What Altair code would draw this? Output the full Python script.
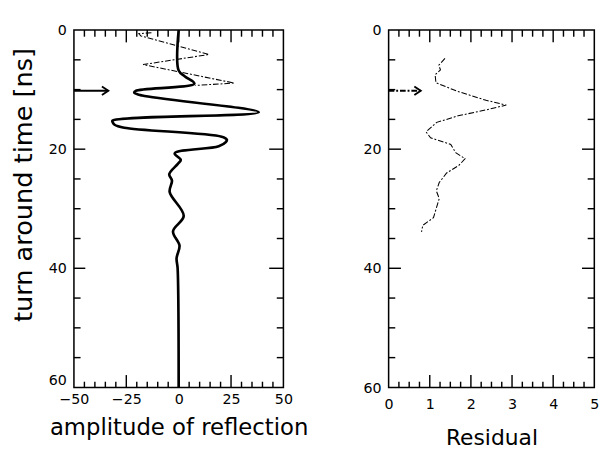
import altair as alt
import pandas as pd

# ---------------- data ----------------
# left panel: thick trace (amplitude of reflection vs turn-around time)
t_thick = [0, 6.8, 7.8, 9.0, 10.2, 10.5, 11.0, 13.8, 15.2, 15.5, 15.9, 16.4,
           17.9, 18.4, 18.8, 19.5, 20.7, 21.8, 22.5, 24.2, 25.3, 27.2, 31.2,
           33.8, 36.2, 38.3, 40.0, 60.0]
amp_thick = [0, 0, 3.0, 7.5, -20.5, -21.2, -17.4, 38.2, -31.6, -31.5, -30.6, -26,
             20.5, 23.0, 22.5, 19.1, -1.9, 1.0, -0.5, -4.5, -3.2, -4.3, 2.4,
             -2.7, 0.4, -1.0, -0.5, 0]
# left panel: thin dashed trace
t_dash = [0.45, 0.6, 1.0, 4.1, 5.8, 8.9, 9.3]
amp_dash = [-13, -19, -18, 14.5, -17, 26.5, 8]
# right panel: residual
t_res = [4.75, 5.9, 6.7, 7.5, 8.85, 10.3, 11.8, 12.6, 13.4, 14.4, 15.5, 17.1,
         18.1, 19.2, 20.6, 21.6, 22.7, 24.0, 25.6, 27.0, 28.3, 29.9, 31.5,
         32.8, 33.9]
res = [1.37, 1.22, 1.26, 1.13, 1.15, 1.68, 2.37, 2.86, 2.37, 1.69, 1.17, 0.91,
       1.02, 1.51, 1.63, 1.86, 1.71, 1.41, 1.23, 1.16, 1.23, 1.16, 1.09,
       0.83, 0.80]
# arrows
arrow_t = [10.2, 10.2]
arrow_amp = [-50, -33.6]
arrow_res = [0, 0.78]

# tick values
amp_labels = [-50, -25, 0, 25, 50]
amp_major = [-25, 0, 25]
amp_minor = [-45, -40, -35, -30, -20, -15, -10, -5, 5, 10, 15, 20, 30, 35, 40, 45]
time_labels = [0, 20, 40, 60]
time_major = [20, 40]
time_minor = [5, 10, 15, 25, 30, 35, 45, 50, 55]
res_labels = [0, 1, 2, 3, 4, 5]
res_major = [1, 2, 3, 4]
res_minor = [0.25, 0.5, 0.75, 1.25, 1.5, 1.75, 2.25, 2.5, 2.75, 3.25, 3.5, 3.75,
             4.25, 4.5, 4.75]

LW, RW, H = 221, 217, 377

thick_df = pd.DataFrame({"t": t_thick, "amp": amp_thick})
dash_df = pd.DataFrame({"t": t_dash, "amp": amp_dash})
arrowL_df = pd.DataFrame({"t": arrow_t, "amp": arrow_amp})
headL_df = arrowL_df.iloc[[1]]
res_df = pd.DataFrame({"t": t_res, "res": res})
arrowR_df = pd.DataFrame({"t": arrow_t, "res": arrow_res})
headR_df = arrowR_df.iloc[[1]]

amp_scale = alt.Scale(domain=[-50, 50], nice=False, zero=False)
res_scale = alt.Scale(domain=[0, 5], nice=False, zero=False)
t_scale = alt.Scale(domain=[0, 60], reverse=True, nice=False, zero=False)

TICK_W = 1.5


def yticks(vals, x0, x1):
    return alt.Chart(pd.DataFrame({"v": vals})).mark_rule(
        color="black", strokeWidth=TICK_W
    ).encode(
        y=alt.Y("v:Q", scale=t_scale, axis=None),
        x=alt.value(x0), x2=alt.value(x1),
    )


def xticks(vals, scale, y0, y1):
    return alt.Chart(pd.DataFrame({"v": vals})).mark_rule(
        color="black", strokeWidth=TICK_W
    ).encode(
        x=alt.X("v:Q", scale=scale, axis=None),
        y=alt.value(y0), y2=alt.value(y1),
    )


HEAD = "M-1.5,-1L0,0L-1.5,1"

# ---------------- left panel ----------------
l_thick = alt.Chart(thick_df).mark_line(
    color="black", strokeWidth=2.8, interpolate="catmull-rom"
).encode(
    x=alt.X("amp:Q", scale=amp_scale,
            axis=alt.Axis(values=amp_labels, tickSize=0, labelPadding=5,
                          title="amplitude of reflection",
                          titleFontSize=24, titlePadding=11)),
    y=alt.Y("t:Q", scale=t_scale,
            axis=alt.Axis(values=time_labels, tickSize=0, labelPadding=8,
                          labelBaseline={"condition": {"test": "datum.value === 60",
                                                       "value": "bottom"},
                                         "value": "middle"},
                          title="turn around time [ns]",
                          titleFontSize=27, titlePadding=12, titleY=163)),
    order="t:Q",
)
l_dash = alt.Chart(dash_df).mark_line(
    color="black", strokeWidth=1.1, strokeDash=[6, 2, 2, 2]
).encode(
    x=alt.X("amp:Q", scale=amp_scale, axis=None),
    y=alt.Y("t:Q", scale=t_scale, axis=None),
    order="t:Q",
)
l_arrow = alt.Chart(arrowL_df).mark_line(color="black", strokeWidth=2).encode(
    x=alt.X("amp:Q", scale=amp_scale, axis=None),
    y=alt.Y("t:Q", scale=t_scale, axis=None),
)
l_head = alt.Chart(headL_df).mark_point(
    shape=HEAD, size=80, filled=False, color="black", strokeWidth=2, opacity=1
).encode(
    x=alt.X("amp:Q", scale=amp_scale, axis=None),
    y=alt.Y("t:Q", scale=t_scale, axis=None),
)
left = alt.layer(
    l_thick, l_dash, l_arrow, l_head,
    yticks(time_minor, 0, 7), yticks(time_major, 0, 12),
    yticks(time_minor, LW, LW - 7), yticks(time_major, LW, LW - 15),
    xticks(amp_minor, amp_scale, H, H - 6), xticks(amp_major, amp_scale, H, H - 13),
    xticks(amp_minor, amp_scale, 0, 7), xticks(amp_major, amp_scale, 0, 13),
).resolve_axis(x="independent", y="independent").properties(width=LW, height=H)

# ---------------- right panel ----------------
r_line = alt.Chart(res_df).mark_line(
    color="black", strokeWidth=1.1, strokeDash=[6, 2, 2, 2]
).encode(
    x=alt.X("res:Q", scale=res_scale,
            axis=alt.Axis(values=res_labels, tickSize=0, labelPadding=10,
                          title="Residual", titleFontSize=23, titlePadding=17)),
    y=alt.Y("t:Q", scale=t_scale,
            axis=alt.Axis(values=time_labels, tickSize=0, labelPadding=8,
                          title=None)),
    order="t:Q",
)
r_arrow = alt.Chart(arrowR_df).mark_line(
    color="black", strokeWidth=2, strokeDash=[6, 2, 2, 2]
).encode(
    x=alt.X("res:Q", scale=res_scale, axis=None),
    y=alt.Y("t:Q", scale=t_scale, axis=None),
)
r_head = alt.Chart(headR_df).mark_point(
    shape=HEAD, size=80, filled=False, color="black", strokeWidth=2, opacity=1
).encode(
    x=alt.X("res:Q", scale=res_scale, axis=None),
    y=alt.Y("t:Q", scale=t_scale, axis=None),
)
right = alt.layer(
    r_line, r_arrow, r_head,
    yticks(time_minor, 0, 7), yticks(time_major, 0, 13),
    yticks(time_minor, RW, RW - 7), yticks(time_major, RW, RW - 13),
    xticks(res_minor, res_scale, H, H - 6), xticks(res_major, res_scale, H, H - 13),
    xticks(res_minor, res_scale, 0, 7), xticks(res_major, res_scale, 0, 13),
).resolve_axis(x="independent", y="independent").properties(width=RW, height=H)

chart = alt.hconcat(left, right, spacing=56).properties(
    padding={"left": 10, "top": 11, "right": 0, "bottom": 0},
    background="white",
).configure_view(
    stroke="black", strokeWidth=1.6
).configure_axis(
    grid=False, domain=False, tickColor="black",
    labelColor="black", labelFont="DejaVu Sans", labelFontSize=15,
    titleFont="DejaVu Sans", titleFontWeight="normal", titleColor="black",
    labelFlush=False, labelOverlap=False,
)

chart.save("out.html", embed_options={"renderer": "svg", "actions": False})
